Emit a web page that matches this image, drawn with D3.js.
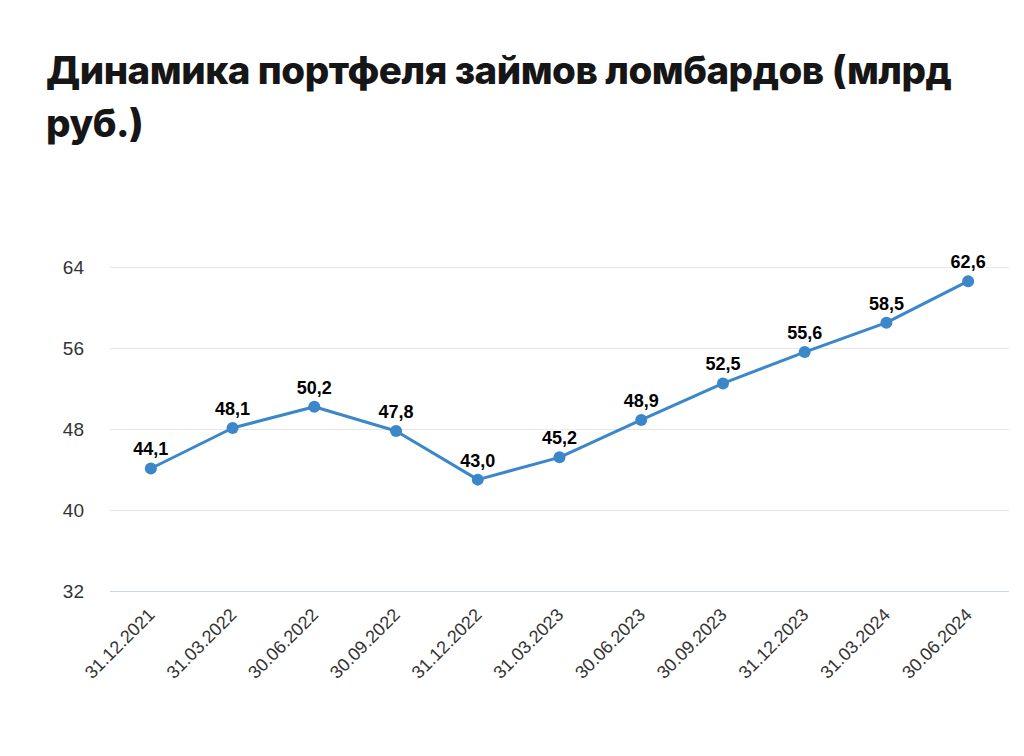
<html>
<head>
  <meta charset="utf-8">
  <title>Динамика портфеля займов ломбардов</title>
  <script src="https://d3js.org/d3.v7.min.js"></script>
  <style>
    body { margin: 0; background: #ffffff; }
    #chart-title {
      position: absolute;
      left: 46px;
      top: 44px;
      width: 960px;
      margin: 0;
      font-family: Inter, "Noto Sans", sans-serif;
      font-size: 38.5px;
      font-weight: 800;
      line-height: 53px;
      color: #161616;
      letter-spacing: -0.5px;
    }
    svg { position: absolute; left: 0; top: 0; }
  </style>
</head>
<body>
  <h1 id="chart-title">Динамика портфеля займов ломбардов (млрд руб.)</h1>
  <svg id="chart" width="1024" height="756"></svg>

  <script>
    // data
    const dates = ['31.12.2021', '31.03.2022', '30.06.2022', '30.09.2022', '31.12.2022', '31.03.2023',
      '30.06.2023', '30.09.2023', '31.12.2023', '31.03.2024', '30.06.2024'];
    const values = [44.1, 48.1, 50.2, 47.8, 43.0, 45.2, 48.9, 52.5, 55.6, 58.5, 62.6];
    const yTicks = [32, 40, 48, 56, 64];

    const plotLeft = 110, plotRight = 1009, plotBottom = 591;
    const lineColor = '#3b87c9';
    const labelFont = '"Liberation Sans", Arial, sans-serif';

    const svg = d3.select('#chart');

    const x = d3.scaleBand().domain(dates).range([plotLeft, plotRight]);
    // 8 units = 81px, so 64 sits at 267
    const y = d3.scaleLinear().domain([32, 72]).range([plotBottom, plotBottom - 405]);

    // gridlines
    svg.append('g')
      .selectAll('line')
      .data(yTicks.filter(t => t > 32))
      .join('line')
      .attr('x1', plotLeft).attr('x2', plotRight)
      .attr('y1', d => y(d) + 0.5).attr('y2', d => y(d) + 0.5)
      .attr('stroke', '#e6e6e6')
      .attr('stroke-width', 1);

    // bottom axis line
    svg.append('line')
      .attr('x1', plotLeft).attr('x2', plotRight)
      .attr('y1', y(32) + 0.5).attr('y2', y(32) + 0.5)
      .attr('stroke', '#ccd6eb');

    // y labels
    svg.append('g')
      .selectAll('text')
      .data(yTicks)
      .join('text')
      .attr('x', 84)
      .attr('y', d => y(d) + 7)
      .attr('text-anchor', 'end')
      .attr('font-family', labelFont)
      .attr('font-size', '19px')
      .attr('fill', '#333333')
      .text(d => d);

    // x labels, rotated
    svg.append('g')
      .selectAll('text')
      .data(dates)
      .join('text')
      .attr('transform', d => `translate(${x(d) + x.bandwidth() / 2 + 5}, ${plotBottom + 25}) rotate(-45)`)
      .attr('text-anchor', 'end')
      .attr('font-family', labelFont)
      .attr('font-size', '18px')
      .attr('fill', '#333333')
      .text(d => d);

    const pts = dates.map((d, i) => ({ date: d, value: values[i] }));
    const cx = d => x(d.date) + x.bandwidth() / 2;

    const line = d3.line().x(cx).y(d => y(d.value));

    svg.append('path')
      .datum(pts)
      .attr('d', line)
      .attr('fill', 'none')
      .attr('stroke', lineColor)
      .attr('stroke-width', 3)
      .attr('stroke-linejoin', 'round');

    svg.append('g')
      .selectAll('circle')
      .data(pts)
      .join('circle')
      .attr('cx', cx)
      .attr('cy', d => y(d.value))
      .attr('r', 6)
      .attr('fill', lineColor);

    // value labels with white outline
    svg.append('g')
      .selectAll('text')
      .data(pts)
      .join('text')
      .attr('x', cx)
      .attr('y', d => y(d.value) - 13)
      .attr('text-anchor', 'middle')
      .attr('font-family', labelFont)
      .attr('font-size', '18px')
      .attr('font-weight', 'bold')
      .attr('fill', '#000000')
      .attr('stroke', '#ffffff')
      .attr('stroke-width', 3)
      .attr('stroke-linejoin', 'round')
      .attr('paint-order', 'stroke')
      .text(d => d.value.toFixed(1).replace('.', ','));
  </script>
</body>
</html>
